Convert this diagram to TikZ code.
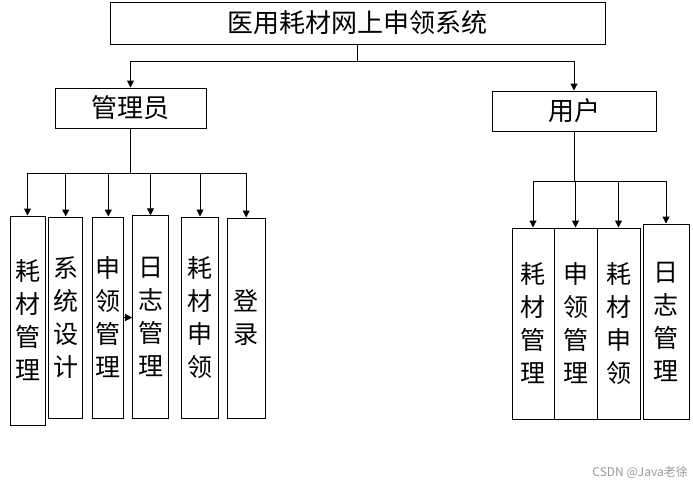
\documentclass[tikz,border=0pt]{standalone}
\usepackage{fontspec}
\setmainfont{Noto Sans CJK SC}
\usetikzlibrary{arrows.meta}
\tikzset{
  box/.style={draw=black, line width=1pt, inner sep=0pt, align=center, text=black},
  hbox/.style={box, font=\fontsize{26}{30}\selectfont},
  vbox/.style={box, font=\fontsize{25}{33}\selectfont},
  conn/.style={draw=black, line width=1pt},
  arr/.style={conn, -{Triangle[length=7pt,width=7pt]}},
  wm/.style={text=black!40, font=\fontsize{12}{14}\selectfont, inner sep=0pt}
}
\begin{document}
\begin{tikzpicture}[x=1pt,y=-1pt]
\useasboundingbox (0,0) rectangle (693,485);
\fill[white] (0,0) rectangle (693,485);
% top
\node[hbox, minimum width=495pt, minimum height=42pt] (title) at (357.5,23) {医用耗材网上申领系统};
\node[hbox, minimum width=151pt, minimum height=40pt] (admin) at (130.5,108) {管理员};
\node[hbox, minimum width=164pt, minimum height=40pt] (user) at (574,111) {用户};
% left boxes
\node[vbox, minimum width=35pt, minimum height=209pt] (L1) at (27.5,320.5) {耗\\材\\管\\理};
\node[vbox, minimum width=34pt, minimum height=201pt] (L2) at (65.7,317.5) {系\\统\\设\\计};
\node[vbox, minimum width=31.3pt, minimum height=201pt] (L3) at (108.3,317.5) {申\\领\\管\\理};
\node[vbox, minimum width=35.6pt, minimum height=202.3pt] (L4) at (150.5,316.9) {日\\志\\管\\理};
\node[vbox, minimum width=36.6pt, minimum height=201pt] (L5) at (200,317.5) {耗\\材\\申\\领};
\node[vbox, minimum width=37.7pt, minimum height=200pt] (L6) at (246.2,318) {登\\录};
% right boxes
\node[vbox, minimum width=42pt, minimum height=191pt] (R1) at (533,323.5) {耗\\材\\管\\理};
\node[vbox, minimum width=43pt, minimum height=191pt] (R2) at (575.5,323.5) {申\\领\\管\\理};
\node[vbox, minimum width=43pt, minimum height=191pt] (R3) at (618.5,323.5) {耗\\材\\申\\领};
\node[vbox, minimum width=46pt, minimum height=195pt] (R4) at (666,321.5) {日\\志\\管\\理};
% connectors top
\coordinate (tj) at (357.5,61);
\draw[conn] (title.south) -- (tj);
\draw[arr] (tj) -| (admin.north);
\draw[arr] (tj) -| (user.north);
% admin children
\coordinate (aj) at (130.5,173);
\draw[conn] (admin.south) -- (aj);
\foreach \n in {L1,L2,L3,L4,L5,L6} \draw[arr] (aj) -| (\n.north);
% user children
\coordinate (uj) at (574,181);
\draw[conn] (user.south) -- (uj);
\foreach \n in {R1,R2,R3,R4} \draw[arr] (uj) -| (\n.north);
% small arrow
\draw[arr] (L3.east) -- (L3.east -| L4.west);
% watermark
\node[wm, anchor=east] (mark) at (688,472) {CSDN @Java老徐};
\end{tikzpicture}
\end{document}
